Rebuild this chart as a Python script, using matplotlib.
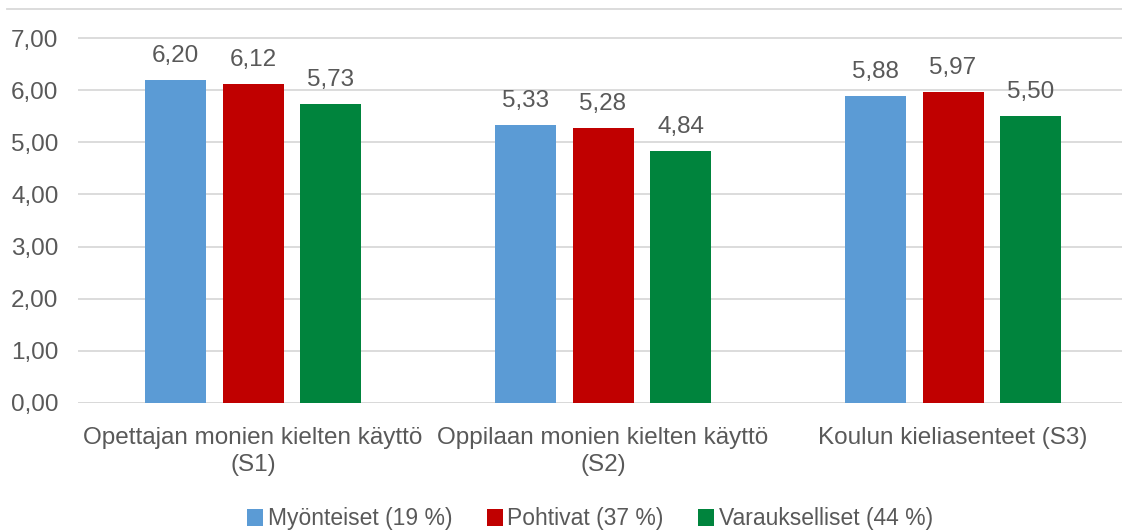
import matplotlib
matplotlib.use("Agg")
import matplotlib.pyplot as plt
from matplotlib.lines import Line2D
import numpy as np

categories = ["Opettajan monien kielten käyttö\n(S1)",
              "Oppilaan monien kielten käyttö\n(S2)",
              "Koulun kieliasenteet (S3)"]
series_names = ["Myönteiset (19 %)", "Pohtivat (37 %)", "Varaukselliset (44 %)"]
myonteiset = [6.20, 5.33, 5.88]
pohtivat = [6.12, 5.28, 5.97]
varaukselliset = [5.73, 4.84, 5.50]
yticks = [0, 1, 2, 3, 4, 5, 6, 7]

colors = ["#5B9BD5", "#C00000", "#00843D"]
text_col = "#595959"
plt.rcParams['font.family'] = ['Liberation Sans', 'DejaVu Sans']

W, H = 1122, 531
fig = plt.figure(figsize=(W / 100, H / 100), dpi=100)
left, right = 78, 1128
top, bottom = 12, 403
ax = fig.add_axes([left / W, 1 - bottom / H, (right - left) / W, (bottom - top) / H])

x = np.arange(len(categories))
bw = 61 / 350
step = 77.5 / 350
for i, (vals, c, name) in enumerate(zip([myonteiset, pohtivat, varaukselliset], colors, series_names)):
    pos = x + (i - 1) * step
    ax.bar(pos, vals, width=bw, color=c, label=name, zorder=3)
    for px_, v in zip(pos, vals):
        ax.annotate(f"{v:.2f}".replace(".", ","), (px_, v), xytext=(0, 13),
                    textcoords="offset points", ha="center", va="baseline",
                    fontsize=17.5, color=text_col)

ax.set_xlim(-0.5, 2.5)
ax.set_ylim(0, 7.5)
ax.set_yticks(yticks)
ax.set_yticklabels([f"{t:.2f}".replace(".", ",") for t in yticks])
ax.set_xticks(x)
ax.set_xticklabels(categories, linespacing=1.3)
ax.tick_params(axis="both", length=0, colors=text_col, labelsize=17.5)
ax.tick_params(axis="y", pad=14)
ax.tick_params(axis="x", pad=17)
ax.grid(axis="y", color="#D9D9D9", linewidth=1.3, zorder=0)
for s in ax.spines.values():
    s.set_visible(False)
ax.axhline(0, color="#D9D9D9", linewidth=1.3, zorder=2)

fig.add_artist(Line2D([7 / W, 1], [1 - 9 / H, 1 - 9 / H], color="#D9D9D9", linewidth=1.3))

leg = fig.legend(loc="center", bbox_to_anchor=(590 / W, 1 - 519 / H), ncol=3, frameon=False,
                 fontsize=16.5, handlelength=0.7, handleheight=0.7, handletextpad=0.2,
                 columnspacing=1.5, labelcolor=text_col)

fig.savefig("out.png", dpi=100)
